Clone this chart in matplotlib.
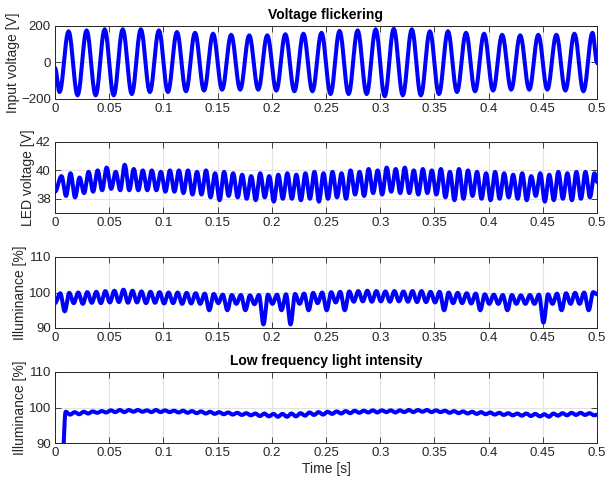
import numpy as np
import matplotlib.pyplot as plt
from matplotlib.ticker import FormatStrFormatter

plt.rcParams['font.family'] = ['Liberation Sans', 'DejaVu Sans']
plt.rcParams['font.size'] = 9.5

############### data ###############
T_END = 0.5
x_ticks = [0, 0.05, 0.1, 0.15, 0.2, 0.25, 0.3, 0.35, 0.4, 0.45, 0.5]

# input voltage, 60 Hz: troughs / peaks of each cycle [V]
vin_start, vin_end = -30, 0
vin_trough = [-162, -180, -180, -180, -173, -162, -162, -158, -154, -149,
              -149, -149, -154, -158, -158, -173, -173, -173, -185, -180,
              -180, -173, -162, -158, -154, -149, -149, -149, -154, -158]
vin_peak = [171, 176, 182, 182, 182, 176, 167, 163, 158, 152,
            149, 149, 155, 158, 163, 173, 176, 182, 185, 182,
            171, 171, 163, 158, 152, 149, 152, 152, 158, 163]
vin_first_trough = 1 / 240   # s
vin_period = 1 / 60          # s

# LED voltage, 120 Hz ripple: peaks (60) / troughs (59) [V]
led_start, led_end = 38.5, 39.2
led_peak = [39.6, 39.8, 39.5, 39.9, 40.0, 40.2, 39.9, 40.4, 40.1, 40.0,
            40.0, 39.9, 40.0, 40.0, 40.0, 39.9, 40.0, 39.8, 39.9, 39.8,
            39.7, 39.6, 39.8, 39.6, 39.7, 39.8, 39.7, 39.8, 39.9, 39.8,
            39.9, 39.8, 40.0, 39.9, 40.1, 40.0, 40.2, 40.1, 40.2, 40.0,
            40.1, 40.0, 40.1, 39.9, 40.1, 40.0, 39.9, 39.8, 39.9, 39.8,
            39.7, 39.8, 39.6, 39.8, 39.7, 39.9, 39.8, 39.9, 39.9, 39.8]
led_trough = [38.2, 38.1, 38.4, 38.5, 38.6, 38.7, 38.6, 38.6, 38.6, 38.6,
              38.6, 38.5, 38.5, 38.4, 38.3, 38.3, 38.1, 37.9, 38.2, 38.1,
              38.0, 37.9, 38.1, 37.8, 38.0, 38.0, 37.9, 38.0, 37.8, 38.0,
              38.1, 38.0, 38.3, 38.2, 38.4, 38.3, 38.5, 38.4, 38.4, 38.3,
              38.4, 38.3, 38.1, 37.9, 38.0, 38.2, 38.0, 37.9, 38.0, 38.1,
              38.0, 37.9, 38.2, 37.8, 37.9, 38.0, 37.9, 38.0, 38.1]
led_first_peak = 0.006
led_period = 1 / 120

# illuminance, 120 Hz: peaks (60) / troughs (59) [%]
ill_start, ill_end = 97.0, 99.5
ill_peak = [99.8, 99.9, 100.0, 100.1, 100.2, 100.4, 100.5, 100.8, 100.5, 100.3,
            100.2, 100.1, 100.0, 100.0, 99.9, 99.8, 99.7, 99.6, 99.4, 99.3,
            99.3, 99.2, 99.3, 99.4, 99.4, 99.5, 99.6, 99.7, 99.9, 100.0,
            100.1, 100.2, 100.3, 100.4, 100.5, 100.4, 100.3, 100.4, 100.3, 100.4,
            100.4, 100.2, 100.2, 100.0, 99.9, 99.8, 99.7, 99.5, 99.4, 99.3,
            99.3, 99.2, 99.3, 99.4, 99.5, 99.7, 99.8, 99.9, 100.0, 100.1]
ill_trough = [94.7, 97.0, 96.8, 97.1, 97.0, 97.2, 97.3, 97.1, 97.2, 97.0,
              97.1, 96.9, 97.0, 96.8, 96.9, 96.8, 95.0, 97.0, 95.0, 96.8,
              95.0, 96.7, 91.0, 96.8, 95.0, 91.0, 96.8, 95.0, 97.0, 95.0,
              97.2, 95.0, 97.4, 97.5, 97.4, 97.5, 97.4, 97.5, 97.4, 97.3,
              97.3, 97.2, 95.0, 97.0, 97.0, 96.9, 95.0, 96.8, 96.8, 95.0,
              96.8, 96.8, 96.8, 91.5, 96.8, 95.0, 96.8, 96.8, 95.0]
ill_first_peak = 0.0048
ill_period = 1 / 120

# low frequency light intensity: switch-on ramp, then 120 Hz ripple [%]
lf_ramp_t = [0.0068]
lf_ramp_v = [85.0]
lf_end = 98.0
lf_peak = [98.8, 98.7, 98.8, 98.9, 99.0, 99.2, 99.3, 99.3, 99.3, 99.2, 99.3, 99.2,
           99.1, 99.1, 99.0, 98.9, 98.8, 98.7, 98.6, 98.5, 98.4, 98.3, 98.3, 98.2,
           98.2, 98.3, 98.4, 98.6, 98.7, 98.8, 98.9, 99.0, 99.1, 99.1, 99.2, 99.2,
           99.2, 99.2, 99.3, 99.3, 99.3, 99.2, 99.1, 99.0, 98.9, 98.8, 98.7, 98.6,
           98.5, 98.4, 98.3, 98.3, 98.2, 98.1, 98.3, 98.4, 98.5, 98.5, 98.4]
lf_trough = [98.0, 98.1, 98.3, 98.5, 98.6, 98.7, 98.7, 98.8, 98.8, 98.7, 98.7, 98.7,
             98.6, 98.5, 98.4, 98.3, 98.2, 98.1, 98.0, 97.9, 97.8, 97.6, 97.5, 97.4,
             97.4, 97.5, 97.7, 97.9, 98.0, 98.2, 98.3, 98.4, 98.5, 98.6, 98.6, 98.7,
             98.6, 98.7, 98.7, 98.8, 98.7, 98.7, 98.5, 98.4, 98.3, 98.2, 98.1, 98.0,
             97.9, 97.8, 97.7, 97.6, 97.5, 97.4, 97.7, 97.8, 97.9, 97.9, 97.8]
lf_first_peak = 0.0098
lf_period = 1 / 120
###########################################################


def extremes(first, period, a, b):
    """alternate a[0], b[0], a[1], b[1] ... every half period"""
    t, v = [], []
    for i in range(max(len(a), len(b))):
        if i < len(a):
            t.append(first + i * period)
            v.append(a[i])
        if i < len(b):
            t.append(first + (i + 0.5) * period)
            v.append(b[i])
    return t, v


def waveform(t_ext, v_ext, n=10):
    # join successive extremes with half-cosine lobes
    s = np.linspace(0, 1, n + 1)[1:]
    w = (1 - np.cos(np.pi * s)) / 2
    t_out, v_out = [t_ext[0]], [v_ext[0]]
    for i in range(len(t_ext) - 1):
        t_out.extend(t_ext[i] + (t_ext[i + 1] - t_ext[i]) * s)
        v_out.extend(v_ext[i] + (v_ext[i + 1] - v_ext[i]) * w)
    return np.array(t_out), np.array(v_out)


t, v = extremes(vin_first_trough, vin_period, vin_trough, vin_peak)
t_vin, y_vin = waveform([0] + t + [T_END], [vin_start] + v + [vin_end])

t, v = extremes(led_first_peak, led_period, led_peak, led_trough)
t_led, y_led = waveform([0] + t + [T_END], [led_start] + v + [led_end])

t, v = extremes(ill_first_peak, ill_period, ill_peak, ill_trough)
t_ill, y_ill = waveform([0] + t + [T_END], [ill_start] + v + [ill_end])

t, v = extremes(lf_first_peak, lf_period, lf_peak, lf_trough)
t_lf, y_lf = waveform([0] + lf_ramp_t + t + [T_END], [0] + lf_ramp_v + v + [lf_end])

## plot
fig = plt.figure(figsize=(6.07, 4.82), dpi=100)
W, H = 607, 482
L, R = 55, 597
rows = [(26, 99), (142, 213), (257, 328), (372, 443)]
axes = [fig.add_axes([L / W, 1 - b / H, (R - L) / W, (b - tp) / H]) for tp, b in rows]

series = [(t_vin, y_vin, (-200, 200), [-200, 0, 200], 'Input voltage [V]'),
          (t_led, y_led, (37, 42), [38, 40, 42], 'LED voltage [V]'),
          (t_ill, y_ill, (90, 110), [90, 100, 110], 'Illuminance [%]'),
          (t_lf, y_lf, (90, 110), [90, 100, 110], 'Illuminance [%]')]

dark = '#262626'
for ax, (tt, yy, ylim, yt, lab) in zip(axes, series):
    ax.plot(tt, yy, color=(0, 0, 1), lw=2.9, solid_joinstyle='round')
    ax.set_xlim(0, T_END)
    ax.set_ylim(*ylim)
    ax.set_xticks(x_ticks)
    ax.set_yticks(yt)
    ax.xaxis.set_major_formatter(FormatStrFormatter('%g'))
    ax.set_ylabel(lab, color=dark, fontsize=10, labelpad=1)
    ax.grid(True, color='#e3e3e3', lw=0.8)
    ax.set_axisbelow(True)
    ax.tick_params(direction='in', top=True, right=True, length=4, width=0.6,
                   colors=dark, labelsize=9.5, pad=3)
    for sp in ax.spines.values():
        sp.set_color(dark)
        sp.set_linewidth(0.7)

axes[0].set_title('Voltage flickering', fontweight='bold', fontsize=10, pad=5)
axes[3].set_title('Low frequency light intensity', fontweight='bold', fontsize=10, pad=5)
axes[3].set_xlabel('Time [s]', color=dark, fontsize=10, labelpad=2)

fig.savefig('out.png', dpi=100)
